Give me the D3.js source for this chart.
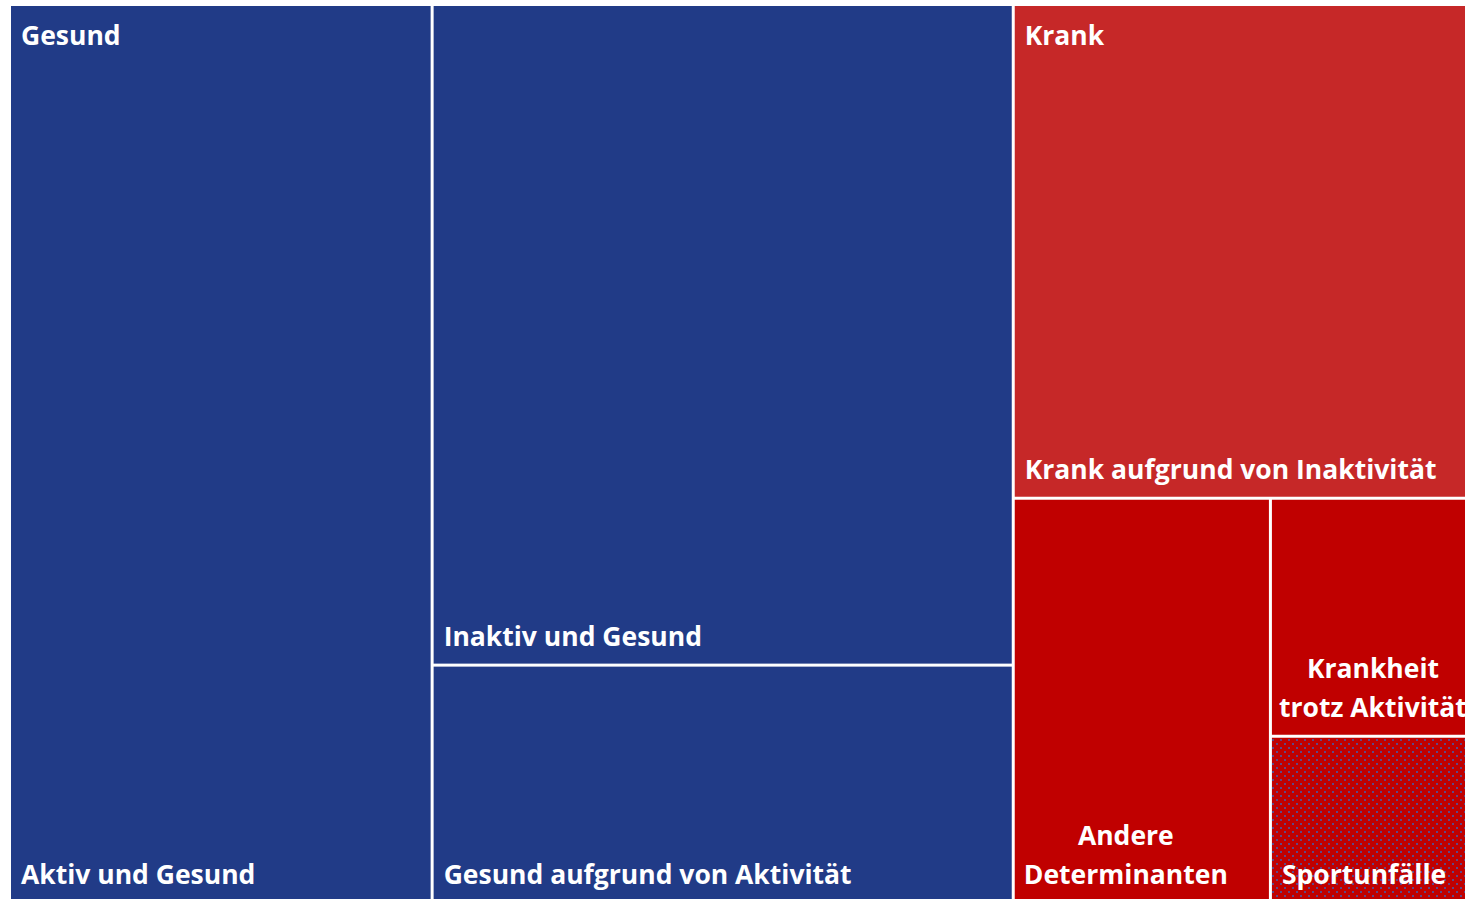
<!DOCTYPE html>
<html>
<head>
<meta charset="utf-8">
<script src="https://cdn.jsdelivr.net/npm/d3@7"></script>
<style>
  body { margin: 0; background: #fff; overflow: hidden; }
  text { font-family: "Open Sans", sans-serif; font-weight: 700; fill: #fff; }
</style>
</head>
<body>
<svg id="chart"></svg>
<script>
// data (shares of 100)
var groupNames = ["Gesund", "Krank"];
var gesundNames = ["Aktiv und Gesund", "Inaktiv und Gesund", "Gesund aufgrund von Aktivität"];
var gesundValues = [28.8, 29.1, 10.5];
var krankNames = ["Krank aufgrund von Inaktivität", "Andere Determinanten", "Krankheit trotz Aktivität", "Sportunfälle"];
var krankValues = [17.3, 7.9, 3.7, 2.6];

var width = 1465, height = 899;
var margin = { top: 6, left: 11 };
var areaW = 1463, areaH = 896;

//colours per leaf
var colors = {
  "Aktiv und Gesund": "#213b87",
  "Inaktiv und Gesund": "#213b87",
  "Gesund aufgrund von Aktivität": "#213b87",
  "Krank aufgrund von Inaktivität": "#c62828",
  "Andere Determinanten": "#c00000",
  "Krankheit trotz Aktivität": "#c00000",
  "Sportunfälle": "#c00000"
};
//label lines + alignment
var labels = {
  "Andere Determinanten": { lines: ["Andere", "Determinanten"], align: "center", shift: -16 },
  "Krankheit trotz Aktivität": { lines: ["Krankheit", "trotz Aktivität"], align: "center", shift: 0 }
};

function leaf(names, values, i) {
  return { name: names[i], value: values[i] };
}

//nested tree; dir tells the tile how to split
var tree = {
  name: "root", dir: "dice", children: [
    { name: groupNames[0], dir: "dice", children: [
      leaf(gesundNames, gesundValues, 0),
      { dir: "slice", children: [leaf(gesundNames, gesundValues, 1), leaf(gesundNames, gesundValues, 2)] }
    ]},
    { name: groupNames[1], dir: "slice", children: [
      leaf(krankNames, krankValues, 0),
      { dir: "dice", children: [
        leaf(krankNames, krankValues, 1),
        { dir: "slice", children: [leaf(krankNames, krankValues, 2), leaf(krankNames, krankValues, 3)] }
      ]}
    ]}
  ]
};

var root = d3.hierarchy(tree).sum(function(d) { return d.children ? 0 : d.value; });

d3.treemap()
  .size([areaW, areaH])
  .paddingInner(3)
  .tile(function(node, x0, y0, x1, y1) {
    if (node.data.dir === "slice") d3.treemapSlice(node, x0, y0, x1, y1);
    else d3.treemapDice(node, x0, y0, x1, y1);
  })(root);

var svg = d3.select("#chart").attr("width", width).attr("height", height);

//dotted pattern for Sportunfälle
var pat = svg.append("defs").append("pattern")
  .attr("id", "dots")
  .attr("patternUnits", "userSpaceOnUse")
  .attr("width", 8).attr("height", 8);
pat.append("rect").attr("width", 8).attr("height", 8).attr("fill", "#c00000");
pat.append("circle").attr("cx", 2).attr("cy", 2).attr("r", 1).attr("fill", "#3f5fb3");
pat.append("circle").attr("cx", 6).attr("cy", 6).attr("r", 1).attr("fill", "#3f5fb3");

var g = svg.append("g").attr("transform", "translate(" + margin.left + "," + margin.top + ")");

var leaves = root.leaves();

g.selectAll("rect.cell")
  .data(leaves).enter().append("rect")
  .attr("class", "cell")
  .attr("x", function(d) { return d.x0; })
  .attr("y", function(d) { return d.y0; })
  .attr("width", function(d) { return d.x1 - d.x0; })
  .attr("height", function(d) { return d.y1 - d.y0; })
  .attr("fill", function(d) { return d.data.name === "Sportunfälle" ? "url(#dots)" : colors[d.data.name]; });

var fontSize = 26.5, lineH = 39;

//leaf labels, bottom aligned
leaves.forEach(function(d) {
  var cfg = labels[d.data.name] || { lines: [d.data.name], align: "left", shift: 0 };
  var n = cfg.lines.length;
  cfg.lines.forEach(function(line, i) {
    var t = g.append("text")
      .attr("font-size", fontSize)
      .attr("y", d.y1 - 18 - (n - 1 - i) * lineH)
      .text(line);
    if (cfg.align === "center") {
      t.attr("text-anchor", "middle").attr("x", (d.x0 + d.x1) / 2 + cfg.shift);
    } else {
      t.attr("x", d.x0 + 10);
    }
  });
});

//group labels top-left
root.children.forEach(function(d) {
  g.append("text")
    .attr("font-size", fontSize)
    .attr("x", d.x0 + 10)
    .attr("y", d.y0 + 39)
    .text(d.data.name);
});
</script>
</body>
</html>
